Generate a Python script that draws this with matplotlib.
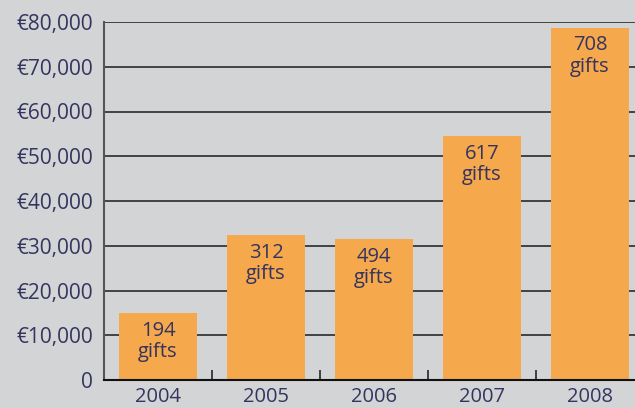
import matplotlib
matplotlib.use("Agg")
import matplotlib.pyplot as plt
from matplotlib.ticker import FuncFormatter

years = ["2004", "2005", "2006", "2007", "2008"]
amounts = [15000, 32400, 31500, 54500, 78700]
gifts = [194, 312, 494, 617, 708]
yticks = [0, 10000, 20000, 30000, 40000, 50000, 60000, 70000, 80000]

bg = "#d3d4d6"
orange = "#f5a84c"
txt = "#35345f"

plt.rcParams["font.family"] = ["Open Sans", "DejaVu Sans"]

fig = plt.figure(figsize=(6.35, 4.08), dpi=100, facecolor=bg)
ax = fig.add_axes([104/635, (408-380)/408, 540/635, 358/408])
ax.set_facecolor(bg)

x = list(range(len(years)))
ax.bar(x, amounts, width=0.722, color=orange, zorder=3)

ax.set_xlim(-0.5, len(years) - 0.5)
ax.set_ylim(0, 80000)
ax.set_yticks(yticks)
ax.yaxis.set_major_formatter(FuncFormatter(lambda v, p: "0" if v == 0 else "€{:,.0f}".format(v)))
ax.tick_params(axis="y", length=0, pad=8, labelsize=15, labelcolor=txt)

ax.set_xticks(x)
ax.set_xticklabels(years)
ax.set_xticks([i + 0.5 for i in x[:-1]], minor=True)
ax.tick_params(axis="x", which="major", length=0, pad=5, labelsize=14.5, labelcolor=txt)
ax.tick_params(axis="x", which="minor", direction="in", length=7, width=1.3, color="#333333")

ax.grid(axis="y", color="#2a2a2a", linewidth=1.2, zorder=1)
for s in ["top", "right"]:
    ax.spines[s].set_visible(False)
ax.spines["left"].set_color("#555555")
ax.spines["left"].set_linewidth(1.5)
ax.spines["bottom"].set_color("#111111")
ax.spines["bottom"].set_linewidth(1.5)
ax.spines["left"].set_zorder(4)
ax.spines["bottom"].set_zorder(4)

for xi, h, g in zip(x, amounts, gifts):
    ax.annotate(f"{g}\ngifts", xy=(xi, h), xytext=(0, -5.5), textcoords="offset points",
                ha="center", va="top", fontsize=14.5, color=txt, linespacing=1.08, zorder=5)

fig.savefig("out.png", dpi=100, facecolor=bg)
